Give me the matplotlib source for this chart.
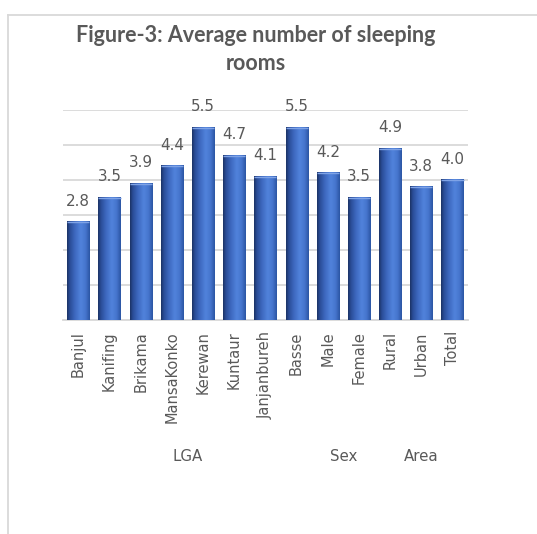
import numpy as np
import matplotlib
matplotlib.use("Agg")
import matplotlib.pyplot as plt
from matplotlib.colors import LinearSegmentedColormap
from matplotlib.lines import Line2D

plt.rcParams['font.family'] = ['DejaVu Sans']

categories = ["Banjul", "Kanifing", "Brikama", "MansaKonko", "Kerewan", "Kuntaur",
              "Janjanbureh", "Basse", "Male", "Female", "Rural", "Urban", "Total"]
values = [2.8, 3.5, 3.9, 4.4, 5.5, 4.7, 4.1, 5.5, 4.2, 3.5, 4.9, 3.8, 4.0]
groups = ["LGA", "Sex", "Area"]
group_spans = [(0, 7), (8, 9), (10, 12)]
title = "Figure-3: Average number of sleeping\nrooms"

text_color = "#595959"
grid_color = "#d9d9d9"

fig = plt.figure(figsize=(5.37, 5.34), dpi=100)
ax = fig.add_axes([0.1167, 0.4007, 0.755, 0.3933])

# cylinder-like horizontal shading for each bar
shade = LinearSegmentedColormap.from_list(
    "shade",
    [(0.0, "#1b3264"), (0.12, "#2a4d98"), (0.35, "#3e69c0"),
     (0.6, "#5183dc"), (0.82, "#4675cd"), (1.0, "#2b55a3")])
grad = np.linspace(0, 1, 64)[None, :]

width = 0.71
x = np.arange(len(categories))
bars = ax.bar(x, values, width=width, color="none", edgecolor="none", zorder=3)
for rect, v in zip(bars, values):
    x0 = rect.get_x()
    ax.imshow(grad, cmap=shade, aspect="auto", extent=(x0, x0 + width, 0, v),
              zorder=3, interpolation="bicubic")
    ax.plot([x0, x0 + width], [v, v], color="#7fa3e6", lw=1.0, zorder=4,
            solid_capstyle="butt")
    ax.text(rect.get_x() + width / 2, v + 0.46, f"{v:.1f}", ha="center",
            va="baseline", fontsize=10.9, color=text_color, zorder=5)

ax.set_xlim(-0.5, len(categories) - 0.5)
ax.set_ylim(0, 6)
ax.set_yticks(np.arange(0, 7, 1))
ax.yaxis.grid(True, color=grid_color, lw=1.3, zorder=0)
ax.set_axisbelow(True)
ax.tick_params(axis="y", left=False, labelleft=False)
ax.tick_params(axis="x", bottom=False, length=0, pad=8)
ax.set_xticks(x)
ax.set_xticklabels(categories, rotation=90, fontsize=10.5, color=text_color)
for side in ("top", "right", "left"):
    ax.spines[side].set_visible(False)
ax.spines["bottom"].set_color(grid_color)
ax.spines["bottom"].set_linewidth(1.3)

for name, (a, b) in zip(groups, group_spans):
    ax.text((a + b) / 2, -0.652, name, transform=ax.get_xaxis_transform(),
            ha="center", va="center", fontsize=10.8, color=text_color)

fig.text(0.477, 0.908, title, ha="center", va="center", fontsize=15.5,
         fontweight="bold", color=text_color, linespacing=1.4, family="Lato")

# chart frame edges
fig.add_artist(Line2D([8 / 537, 1.0], [1 - 15 / 534] * 2, color=grid_color, lw=1.3,
                      transform=fig.transFigure))
fig.add_artist(Line2D([8 / 537] * 2, [1 - 15 / 534, 0.0], color=grid_color, lw=1.3,
                      transform=fig.transFigure))

fig.savefig("out.png", dpi=100)
